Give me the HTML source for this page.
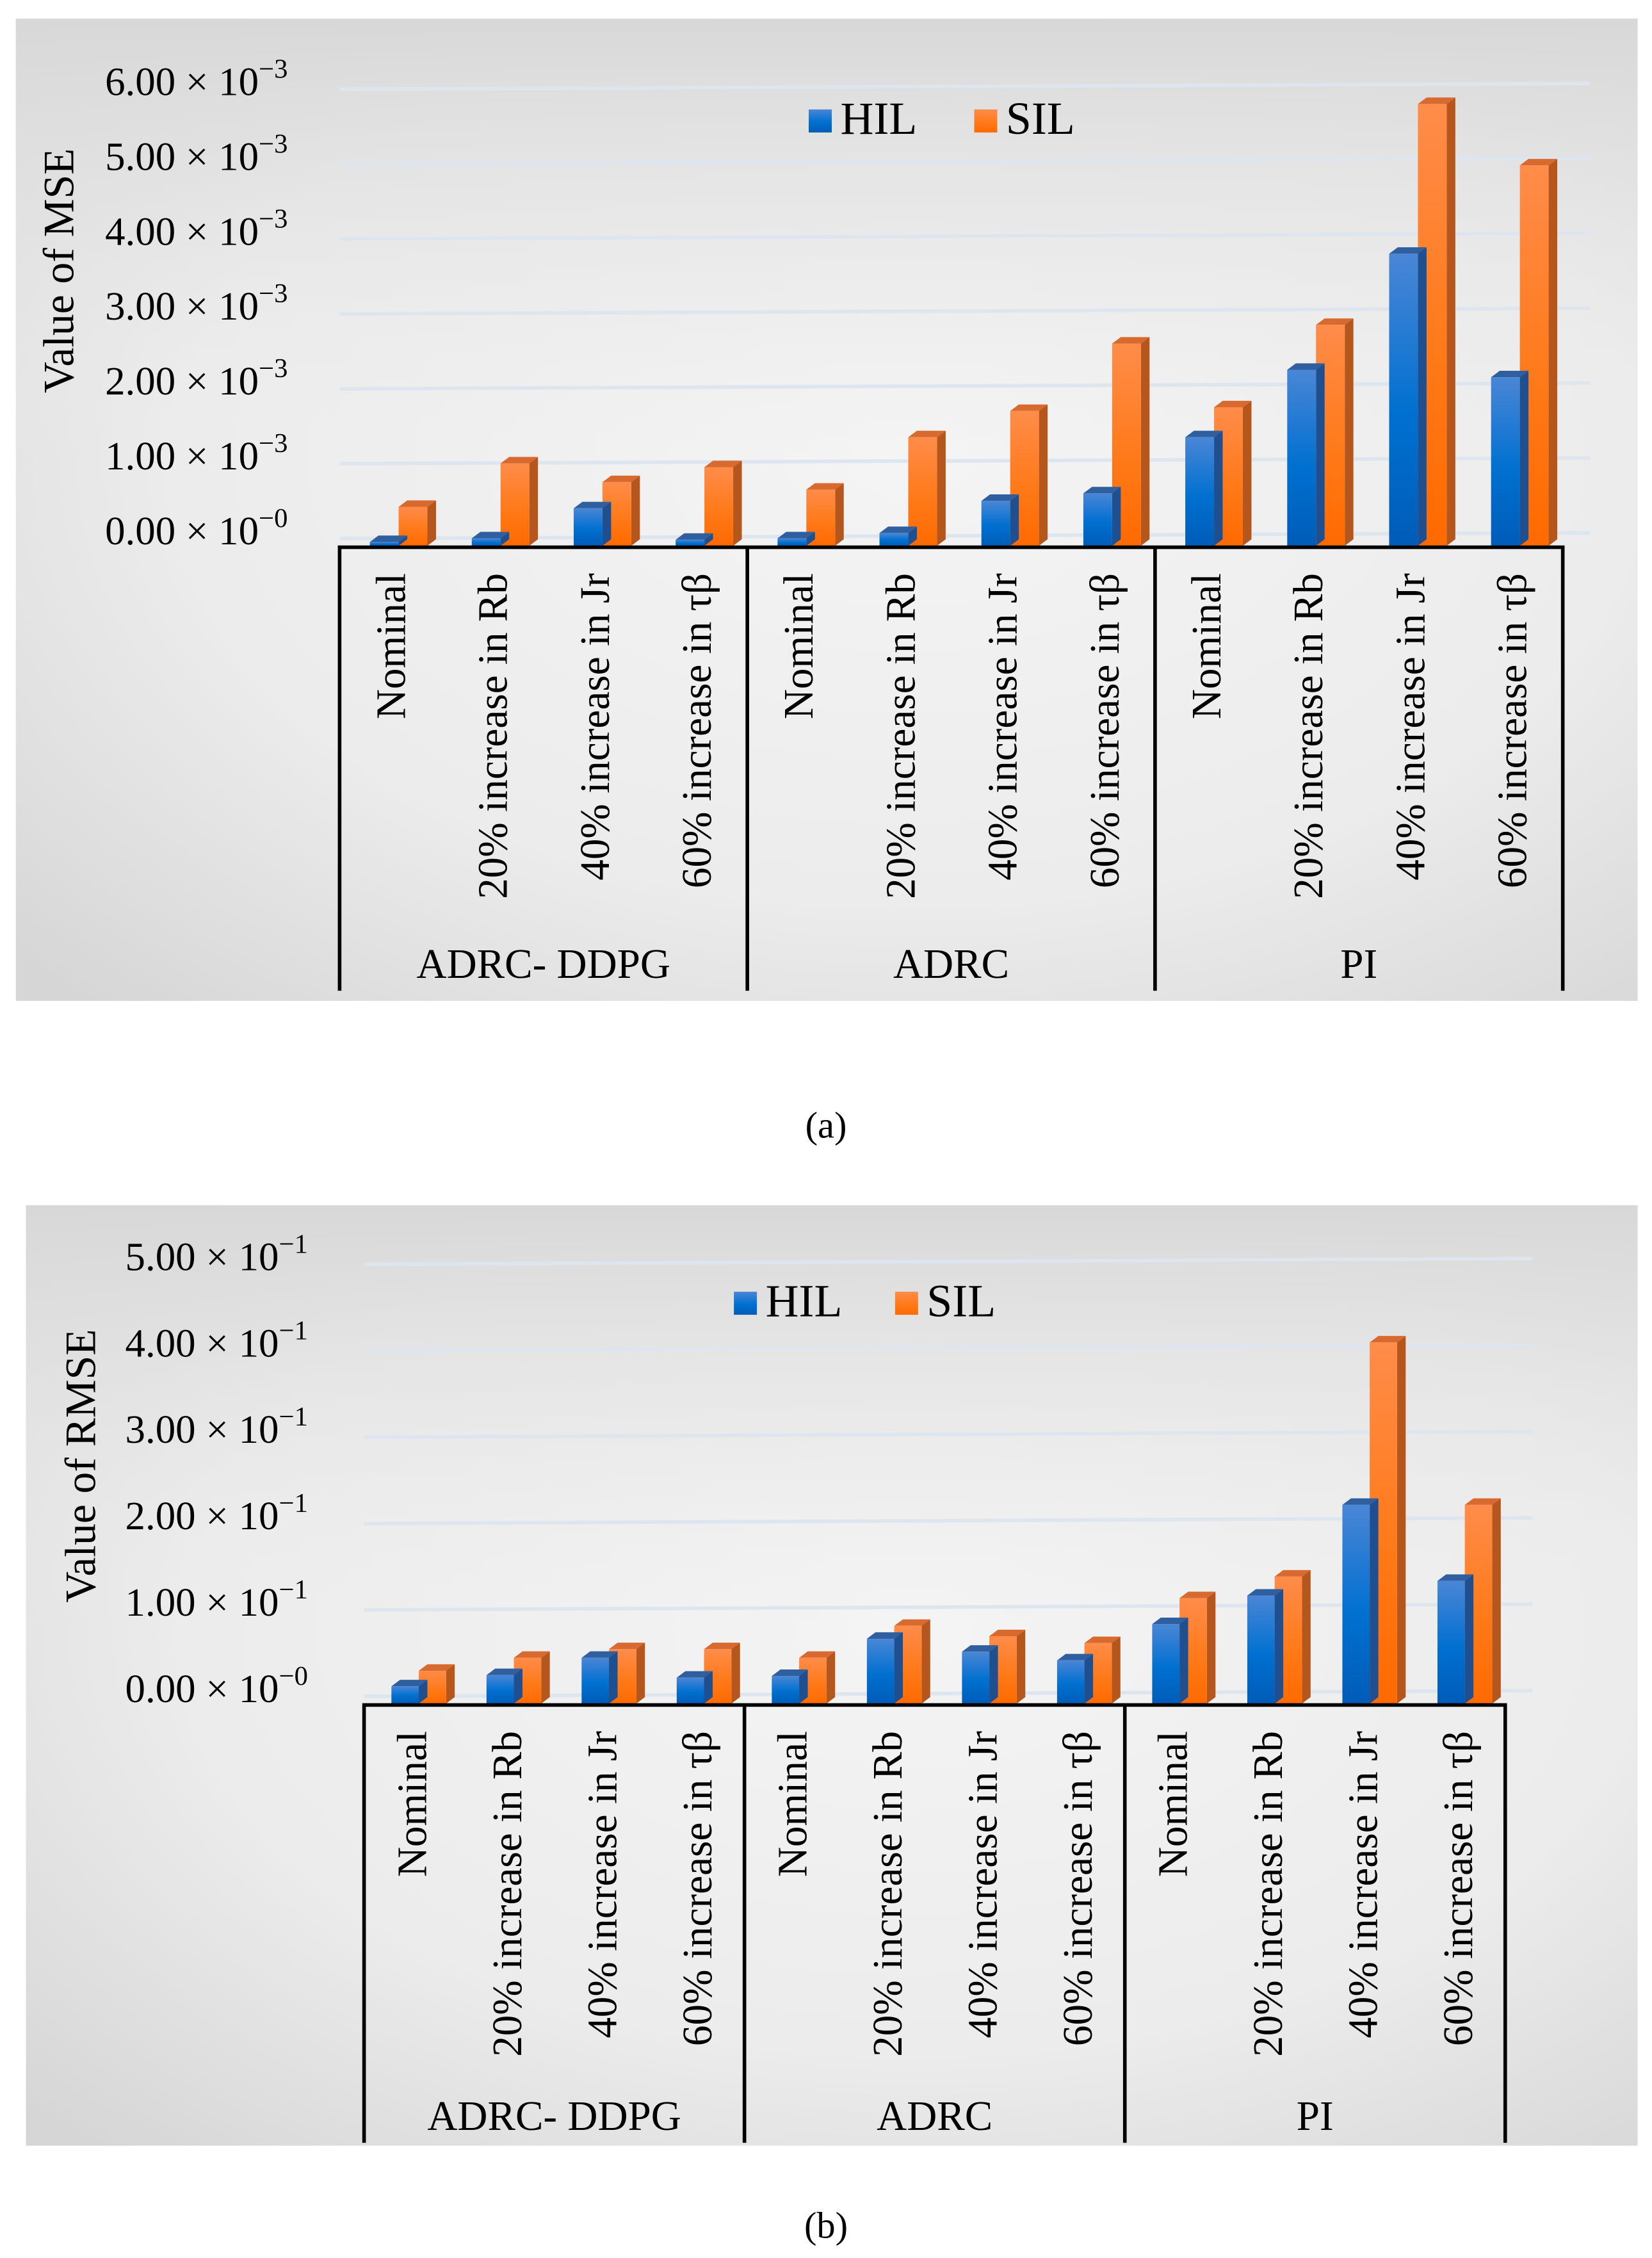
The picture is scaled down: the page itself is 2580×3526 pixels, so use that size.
<!DOCTYPE html>
<html><head><meta charset="utf-8"><style>
html,body{margin:0;padding:0;background:#fff}
svg{display:block}
text{font-family:"Liberation Serif",serif;fill:#000}
</style></head><body>
<svg id="s" width="2580" height="3526" viewBox="0 0 1148 1568" preserveAspectRatio="none" xmlns="http://www.w3.org/2000/svg">
<defs>
<radialGradient id="bg" cx="0.55" cy="0.45" r="0.75"><stop offset="0" stop-color="#f4f4f4"/><stop offset="0.6" stop-color="#ececec"/><stop offset="1" stop-color="#d6d6d6"/></radialGradient>
<linearGradient id="bgtop" x1="0" y1="0" x2="0" y2="1"><stop offset="0" stop-color="#d8d8d8"/><stop offset="0.45" stop-color="#efefef" stop-opacity="0"/></linearGradient>
<linearGradient id="gb" x1="0" y1="0" x2="0" y2="1"><stop offset="0" stop-color="#4a86d6"/><stop offset="0.55" stop-color="#0070d0"/><stop offset="1" stop-color="#005cb8"/></linearGradient>
<linearGradient id="go" x1="0" y1="0" x2="0" y2="1"><stop offset="0" stop-color="#ff8c4a"/><stop offset="0.55" stop-color="#ff7a1a"/><stop offset="1" stop-color="#ff6a00"/></linearGradient>
</defs>
<g id="pa"></g>
<g id="pb"></g>
<text x="574" y="790" font-size="26" text-anchor="middle">(a)</text>
<text x="574" y="1554" font-size="26" text-anchor="middle">(b)</text>
</svg>
<script>
const categories=["Nominal","20% increase in Rb","40% increase in Jr","60% increase in τβ"];
const groups=["ADRC- DDPG","ADRC","PI"];
const mseHIL=[0.05,0.1,0.5,0.08, 0.1,0.17,0.6,0.7, 1.45,2.35,3.9,2.25];
const mseSIL=[0.52,1.1,0.85,1.05, 0.75,1.45,1.8,2.7, 1.85,2.95,5.9,5.08];
const rmseHIL=[0.2,0.33,0.53,0.3, 0.32,0.75,0.6,0.5, 0.92,1.25,2.3,1.42];
const rmseSIL=[0.38,0.53,0.63,0.63, 0.53,0.9,0.78,0.7, 1.22,1.47,4.18,2.3];
const mseTicks=["6.00","5.00","4.00","3.00","2.00","1.00","0.00"];
const rmseTicks=["5.00","4.00","3.00","2.00","1.00","0.00"];
const NS="http://www.w3.org/2000/svg";
function mk(p,t,a){const e=document.createElementNS(NS,t);for(const k in a)e.setAttribute(k,a[k]);p.appendChild(e);return e;}
function chart(g,o){
  const bgr=mk(g,'rect',{x:o.px,y:o.py,width:o.pw,height:o.ph,fill:'url(#bg)'});
  
  
  mk(g,'rect',{x:o.px,y:o.py,width:o.pw,height:o.ph,fill:'url(#bgtop)'});
  const y=v=>o.base-v*o.unit;
  const nT=o.ticks.length;
  o.ticks.forEach((t,i)=>{
    const v=nT-1-i;
    const gy=y(v)-9;
    const ln=mk(g,'line',{x1:o.ax0,y1:gy+4,x2:o.ax1+19,y2:gy,stroke:'#dde6ef','stroke-width':2.5});
    
    
    const tx=mk(g,'text',{x:o.lx,y:y(v)-1,'font-size':28,'text-anchor':'end'});
    
    
    tx.textContent=t+" × 10";
    const sp=mk(tx,'tspan',{'font-size':19,dy:-12});
    sp.textContent=v===0?"−0":o.exp;
  });
  const cw=(o.ax1-o.ax0)/12;
  const d=[6,4.5];
  function bar(x,v,fill,side,top,name){
    const t=y(v),b=o.base,w=o.bw;
    const grp=mk(g,'g',{});
    
    
    mk(grp,'polygon',{points:`${x+w},${b} ${x+w+d[0]},${b-d[1]} ${x+w+d[0]},${t-d[1]} ${x+w},${t}`,fill:side});
    mk(grp,'polygon',{points:`${x},${t} ${x+d[0]},${t-d[1]} ${x+w+d[0]},${t-d[1]} ${x+w},${t}`,fill:top});
    mk(grp,'rect',{x:x,y:t,width:w,height:b-t,fill:fill});
  }
  for(let i=0;i<12;i++){
    const cx=o.ax0+i*cw;
    bar(cx+o.off+o.bw,o.sil[i],'url(#go)','#b5561c','#d86a30','bar-sil');
    bar(cx+o.off,o.hil[i],'url(#gb)','#1f4f8f','#2f5f9f','bar-hil');
    const lt=mk(g,'text',{x:0,y:0,'font-size':29,'text-anchor':'end',transform:`translate(${cx+cw/2+10},${o.base+19}) rotate(-90)`});
    
    
    lt.textContent=categories[i%4];
  }
  const ax=mk(g,'path',{d:`M${o.ax0},${o.bottom} V${o.base+1} H${o.ax1} V${o.bottom} M${o.ax0+cw*4},${o.base+1} V${o.bottom} M${o.ax0+cw*8},${o.base+1} V${o.bottom}`,fill:'none',stroke:'#000','stroke-width':2.5});
  
  
  groups.forEach((gn,j)=>{
    const t=mk(g,'text',{x:o.ax0+cw*(4*j+2),y:o.gy,'font-size':29,'text-anchor':'middle'});
    
    
    t.textContent=gn;
  });
  const yt=mk(g,'text',{x:0,y:0,'font-size':30,'text-anchor':'middle',transform:`translate(${o.ytx},${o.yty}) rotate(-90)`});
  
  
  yt.textContent=o.title;
  [['HIL','url(#gb)',o.leg[0]],['SIL','url(#go)',o.leg[1]]].forEach(([n,c,x])=>{
    const sw=mk(g,'rect',{x:x,y:o.legy-17,width:16,height:16,fill:c});
    
    
    const t=mk(g,'text',{x:x+22,y:o.legy,'font-size':32});
    
    
    t.textContent=n;
  });
}
chart(document.getElementById('pa'),{px:11,py:13,pw:1127,ph:682,base:379,unit:52,ticks:mseTicks,exp:"−3",lx:200,ax0:236,ax1:1086,bottom:688,bw:20,off:21,hil:mseHIL,sil:mseSIL,gy:679,title:"Value of MSE",ytx:51,yty:188,leg:[562,677],legy:93});
chart(document.getElementById('pb'),{px:18,py:837,pw:1120,ph:653,base:1183,unit:60,ticks:rmseTicks,exp:"−1",lx:214,ax0:253,ax1:1046,bottom:1488,bw:19,off:19,hil:rmseHIL,sil:rmseSIL,gy:1479,title:"Value of RMSE",ytx:66,yty:1018,leg:[510,622],legy:914});
</script>
</body></html>
